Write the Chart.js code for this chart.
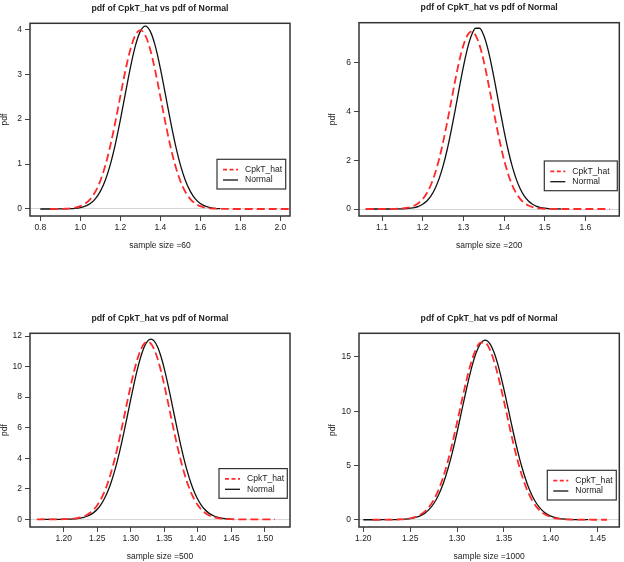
<!DOCTYPE html>
<html lang="en">
<head>
<meta charset="UTF-8">
<title>pdf of CpkT_hat vs pdf of Normal</title>
<script src="https://cdn.jsdelivr.net/npm/chart.js"></script>
<style>
  body { margin: 0; background: #fff; }
  #wrap { position: relative; width: 624px; height: 562px; }
  canvas { position: absolute; }
</style>
</head>
<body>
<div id="wrap">
  <canvas id="c60" width="312" height="281" style="left:0;top:0"></canvas>
  <canvas id="c200" width="312" height="281" style="left:312px;top:0"></canvas>
  <canvas id="c500" width="312" height="281" style="left:0;top:281px"></canvas>
  <canvas id="c1000" width="312" height="281" style="left:312px;top:281px"></canvas>
</div>
<script>
// ---- data (null = curve not drawn there) ----
const n60_x = [0.800,0.825,0.850,0.875,0.900,0.925,0.950,0.975,1.000,1.025,1.050,1.075,1.100,1.125,1.150,1.175,1.200,1.225,1.250,1.275,1.300,1.325,1.350,1.375,1.400,1.425,1.450,1.475,1.500,1.525,1.550,1.575,1.600,1.625,1.650,1.675,1.700,1.725,1.750,1.775,1.800,1.825,1.850,1.875,1.900,1.925,1.950,1.975,2.000,2.025,2.050];
const n60_normal = [0,0,0,0,0.001,0.002,0.006,0.014,0.031,0.063,0.123,0.226,0.392,0.641,0.988,1.438,1.977,2.563,3.138,3.626,3.954,4.07,3.954,3.626,3.138,2.563,1.977,1.438,0.988,0.641,0.392,0.226,0.123,0.063,0.031,0.014,0.006,null,null,null,null,null,null,null,null,null,null,null,null,null,null];
const n60_cpk = [null,null,0,0.001,0.002,0.006,0.014,0.030,0.062,0.121,0.221,0.383,0.626,0.966,1.407,1.933,2.507,3.069,3.545,3.867,3.98,3.867,3.545,3.069,2.507,1.933,1.407,0.966,0.626,0.383,0.221,0.121,0.062,0.030,0.014,0.006,0.002,0.001,0,0,0,0,0,0,0,0,0,0,0,0,0];

const n200_x = [1.06,1.07,1.08,1.09,1.10,1.11,1.12,1.13,1.14,1.15,1.16,1.17,1.18,1.19,1.20,1.21,1.22,1.23,1.24,1.25,1.26,1.27,1.28,1.29,1.30,1.31,1.32,1.33,1.34,1.35,1.36,1.37,1.38,1.39,1.40,1.41,1.42,1.43,1.44,1.45,1.46,1.47,1.48,1.49,1.50,1.51,1.52,1.53,1.54,1.55,1.56,1.57,1.58,1.59,1.60,1.61,1.62,1.63,1.64,1.65,1.66];
const n200_normal = [0,0,0,0,0,0,0.001,0.002,0.004,0.008,0.016,0.032,0.061,0.111,0.194,0.327,0.529,0.822,1.226,1.756,2.419,3.201,4.068,4.969,5.831,6.575,7.122,7.413,7.413,7.122,6.575,5.831,4.969,4.068,3.201,2.419,1.756,1.226,0.822,0.529,0.327,0.194,0.111,0.061,0.032,0.016,0.008,0.004,0.002,null,null,null,null,null,null,null,null,null,null,null,null];
const n200_cpk = [0,0,0,0,0,0.001,0.002,0.005,0.011,0.023,0.044,0.081,0.144,0.247,0.408,0.646,0.984,1.439,2.021,2.728,3.539,4.409,5.279,6.073,6.711,7.126,7.27,7.126,6.711,6.073,5.279,4.409,3.539,2.728,2.021,1.439,0.984,0.646,0.408,0.247,0.144,0.081,0.044,0.023,0.011,0.005,0.002,0.001,0,0,0,0,0,0,0,0,0,0,0,0,0];

const n500_x = [1.160,1.165,1.170,1.175,1.180,1.185,1.190,1.195,1.200,1.205,1.210,1.215,1.220,1.225,1.230,1.235,1.240,1.245,1.250,1.255,1.260,1.265,1.270,1.275,1.280,1.285,1.290,1.295,1.300,1.305,1.310,1.315,1.320,1.325,1.330,1.335,1.340,1.345,1.350,1.355,1.360,1.365,1.370,1.375,1.380,1.385,1.390,1.395,1.400,1.405,1.410,1.415,1.420,1.425,1.430,1.435,1.440,1.445,1.450,1.455,1.460,1.465,1.470,1.475,1.480,1.485,1.490,1.495,1.500,1.505,1.510,1.515];
const n500_normal = [null,0,0,0,0,0,0,0.004,0.006,0.011,0.018,0.031,0.051,0.083,0.131,0.203,0.308,0.457,0.662,0.939,1.302,1.763,2.335,3.023,3.831,4.744,5.744,6.799,7.871,8.907,9.857,10.664,11.281,11.668,11.8,11.668,11.281,10.664,9.857,8.907,7.871,6.799,5.744,4.744,3.831,3.023,2.335,1.763,1.302,0.939,0.662,0.457,0.308,0.203,0.131,0.083,0.051,0.031,0.018,null,null,null,null,null,null,null,null,null,null,null,null,null];
const n500_cpk = [0,0,0,0,0,0,0.003,0.006,0.01,0.017,0.03,0.05,0.081,0.129,0.2,0.303,0.45,0.652,0.925,1.283,1.738,2.302,2.98,3.776,4.675,5.661,6.701,7.757,8.778,9.715,10.51,11.118,11.5,11.63,11.5,11.118,10.51,9.715,8.778,7.757,6.701,5.661,4.675,3.776,2.98,2.302,1.738,1.283,0.925,0.652,0.45,0.303,0.2,0.129,0.081,0.05,0.03,0.017,0.01,0.006,0.003,0,0,0,0,0,0,0,0,0,0,0];

const n1000_x = [1.200,1.205,1.210,1.215,1.220,1.225,1.230,1.235,1.240,1.245,1.250,1.255,1.260,1.265,1.270,1.275,1.280,1.285,1.290,1.295,1.300,1.305,1.310,1.315,1.320,1.325,1.330,1.335,1.340,1.345,1.350,1.355,1.360,1.365,1.370,1.375,1.380,1.385,1.390,1.395,1.400,1.405,1.410,1.415,1.420,1.425,1.430,1.435,1.440,1.445,1.450,1.455,1.460];
const n1000_normal = [0,0,0,0,0.001,0.002,0.005,0.012,0.025,0.051,0.099,0.184,0.328,0.563,0.929,1.472,2.241,3.277,4.604,6.215,8.061,10.044,12.024,13.833,15.287,16.232,16.56,16.232,15.287,13.833,12.024,10.044,8.061,6.215,4.604,3.277,2.241,1.472,0.929,0.563,0.328,0.184,0.099,0.051,0.025,0.012,0.005,0.002,0.001,null,null,null,null];
const n1000_cpk = [null,null,0,0.001,0.002,0.004,0.008,0.018,0.036,0.071,0.134,0.244,0.428,0.72,1.164,1.809,2.698,3.865,5.325,7.045,8.956,10.939,12.836,14.473,15.678,16.318,16.318,15.678,14.473,12.836,10.939,8.956,7.045,5.325,3.865,2.698,1.809,1.164,0.72,0.428,0.244,0.134,0.071,0.036,0.018,0.008,0.004,0.002,0.001,0,0,0,0];

// tick positions
const n60_xTicks = [0.8, 1.0, 1.2, 1.4, 1.6, 1.8, 2.0];
const n60_yTicks = [0, 1, 2, 3, 4];
const n200_xTicks = [1.1, 1.2, 1.3, 1.4, 1.5, 1.6];
const n200_yTicks = [0, 2, 4, 6];
const n500_xTicks = [1.20, 1.25, 1.30, 1.35, 1.40, 1.45, 1.50];
const n500_yTicks = [0, 2, 4, 6, 8, 10, 12];
const n1000_xTicks = [1.20, 1.25, 1.30, 1.35, 1.40, 1.45];
const n1000_yTicks = [0, 5, 10, 15];

const seriesNames = ['CpkT_hat', 'Normal'];
const plotTitle = 'pdf of CpkT_hat vs pdf of Normal';

const FONT = '"Liberation Sans", Arial, Helvetica, sans-serif';
const TXT = '#222';

// R-style box, title and legend inside the plot
const rFrame = {
  id: 'rFrame',
  afterDraw(chart, args, opts) {
    const ctx = chart.ctx, a = chart.chartArea;
    ctx.save();
    ctx.strokeStyle = '#333';
    ctx.lineWidth = 1.5;
    ctx.strokeRect(a.left, a.top, a.right - a.left, a.bottom - a.top);

    ctx.fillStyle = TXT;
    ctx.font = 'bold 8.7px ' + FONT;
    ctx.textAlign = 'center';
    ctx.textBaseline = 'middle';
    ctx.fillText(opts.title, (a.left + a.right) / 2, a.top - 15);

    const L = opts.legend;
    const x0 = a.right - L.rightGap - L.w;
    const y0 = a.bottom - L.bottomGap - L.h;
    ctx.fillStyle = '#fff';
    ctx.fillRect(x0, y0, L.w, L.h);
    ctx.strokeStyle = '#333';
    ctx.lineWidth = 1.2;
    ctx.strokeRect(x0, y0, L.w, L.h);
    chart.data.datasets.forEach((ds, i) => {
      const y = y0 + 10.3 + i * 10.4;
      ctx.beginPath();
      ctx.setLineDash(ds.borderDash ? [4, 2.5] : []);
      ctx.strokeStyle = ds.borderColor;
      ctx.lineWidth = ds.borderWidth;
      ctx.moveTo(x0 + 6, y);
      ctx.lineTo(x0 + 21, y);
      ctx.stroke();
      ctx.setLineDash([]);
      ctx.fillStyle = TXT;
      ctx.textAlign = 'left';
      ctx.font = '8.6px ' + FONT;
      ctx.fillText(ds.label, x0 + 28, y);
    });
    ctx.restore();
  }
};

function points(xs, ys) {
  return xs.map((x, i) => ({ x: x, y: ys[i] })).filter(p => p.y !== null);
}

function makePanel(id, p) {
  new Chart(document.getElementById(id), {
    type: 'line',
    data: {
      datasets: [
        { label: seriesNames[0], data: points(p.x, p.cpk), borderColor: '#ff2a2a', borderWidth: 1.8,
          borderDash: [8, 4], pointRadius: 0, cubicInterpolationMode: 'monotone' },
        { label: seriesNames[1], data: points(p.x, p.normal), borderColor: '#111', borderWidth: 1.3,
          pointRadius: 0, cubicInterpolationMode: 'monotone' }
      ]
    },
    options: {
      responsive: false,
      animation: false,
      devicePixelRatio: 1,
      layout: { padding: p.pad },
      plugins: {
        legend: { display: false },
        tooltip: { enabled: false },
        rFrame: { title: plotTitle, legend: p.legend }
      },
      scales: {
        x: {
          type: 'linear', min: p.xMin, max: p.xMax,
          afterBuildTicks: s => { s.ticks = p.xTicks.map(v => ({ value: v })); },
          afterFit: s => { s.height = 35; },
          border: { display: false },
          grid: { drawOnChartArea: false, tickLength: 5, tickColor: '#444' },
          ticks: { color: TXT, font: { family: FONT, size: 8.5 }, padding: 2, maxRotation: 0, autoSkip: false,
                   callback: v => Number(v).toFixed(p.xDec) },
          title: { display: true, text: p.xLabel, color: TXT, font: { family: FONT, size: 8.5 }, padding: 0 }
        },
        y: {
          type: 'linear', min: p.yMin, max: p.yMax,
          afterBuildTicks: s => { s.ticks = p.yTicks.map(v => ({ value: v })); },
          afterFit: s => { s.width = p.yWidth; },
          border: { display: false },
          grid: { color: c => (c.tick && c.tick.value === 0) ? '#d6d6d6' : 'rgba(0,0,0,0)',
                  tickColor: '#444', tickLength: 5 },
          ticks: { color: TXT, font: { family: FONT, size: 8.5 }, padding: 3, callback: v => String(v) },
          title: { display: true, text: 'pdf', color: TXT, font: { family: FONT, size: 8.5 }, padding: 0 }
        }
      }
    },
    plugins: [rFrame]
  });
}

makePanel('c60', {
  x: n60_x, cpk: n60_cpk, normal: n60_normal,
  xMin: 0.7485, xMax: 2.0485, yMin: -0.156, yMax: 4.134,
  xTicks: n60_xTicks, xDec: 1, yTicks: n60_yTicks, xLabel: 'sample size =60',
  pad: { left: 0, top: 23.3, right: 22, bottom: 30 }, yWidth: 30,
  legend: { w: 68.7, h: 29.7, rightGap: 4.3, bottomGap: 27 }
});
makePanel('c200', {
  x: n200_x, cpk: n200_cpk, normal: n200_normal,
  xMin: 1.0434, xMax: 1.6834, yMin: -0.287, yMax: 7.64,
  xTicks: n200_xTicks, xDec: 1, yTicks: n200_yTicks, xLabel: 'sample size =200',
  pad: { left: 15.6, top: 22.7, right: 4.7, bottom: 30 }, yWidth: 31.4,
  legend: { w: 73, h: 29.7, rightGap: 2, bottomGap: 25.3 }
});
makePanel('c500', {
  x: n500_x, cpk: n500_cpk, normal: n500_normal,
  xMin: 1.1498, xMax: 1.5373, yMin: -0.5, yMax: 12.18,
  xTicks: n500_xTicks, xDec: 2, yTicks: n500_yTicks, xLabel: 'sample size =500',
  pad: { left: 0, top: 52.3, right: 22, bottom: 0 }, yWidth: 30,
  legend: { w: 68.3, h: 29.7, rightGap: 2.7, bottomGap: 28.7 }
});
makePanel('c1000', {
  x: n1000_x, cpk: n1000_cpk, normal: n1000_normal,
  xMin: 1.1954, xMax: 1.4731, yMin: -0.67, yMax: 17.18,
  xTicks: n1000_xTicks, xDec: 2, yTicks: n1000_yTicks, xLabel: 'sample size =1000',
  pad: { left: 15.6, top: 52.3, right: 4.7, bottom: 0 }, yWidth: 31.4,
  legend: { w: 69, h: 29.7, rightGap: 3, bottomGap: 27 }
});
</script>
</body>
</html>
